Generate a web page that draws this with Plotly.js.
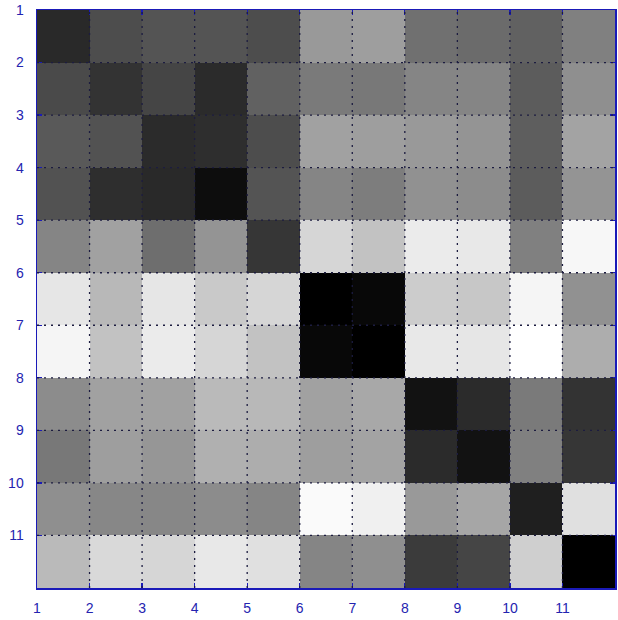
<!DOCTYPE html>
<html>
<head>
<meta charset="utf-8">
<script src="https://cdn.plot.ly/plotly-3.0.1.min.js"></script>
<style>html,body{margin:0;padding:0;background:#fff;}#chart{width:618px;height:620px;}</style>
</head>
<body>
<div id="chart"></div>
<script>
// cell indices (left/top edge of each cell)
const colIdx = [1,2,3,4,5,6,7,8,9,10,11];
const rowIdx = [1,2,3,4,5,6,7,8,9,10,11];
const tickVals = [1,2,3,4,5,6,7,8,9,10,11];
const tickText = ["1","2","3","4","5","6","7","8","9","10","11"];

// gray intensity per cell (0 = black, 1 = white), row by row from the top
const row1  = [0.16,0.30,0.33,0.33,0.30,0.60,0.62,0.44,0.42,0.38,0.50];
const row2  = [0.29,0.20,0.27,0.17,0.38,0.48,0.47,0.52,0.52,0.36,0.56];
const row3  = [0.35,0.32,0.17,0.18,0.30,0.63,0.62,0.60,0.58,0.37,0.64];
const row4  = [0.32,0.18,0.16,0.05,0.33,0.52,0.49,0.57,0.55,0.36,0.58];
const row5  = [0.52,0.63,0.43,0.58,0.21,0.84,0.76,0.92,0.91,0.50,0.97];
const row6  = [0.90,0.72,0.90,0.79,0.84,0.00,0.03,0.80,0.78,0.96,0.57];
const row7  = [0.96,0.76,0.92,0.84,0.76,0.03,0.00,0.91,0.90,1.00,0.68];
const row8  = [0.55,0.63,0.63,0.73,0.72,0.63,0.66,0.07,0.17,0.48,0.20];
const row9  = [0.47,0.62,0.59,0.69,0.68,0.62,0.64,0.17,0.07,0.50,0.21];
const row10 = [0.56,0.53,0.53,0.55,0.52,0.98,0.94,0.60,0.65,0.12,0.88];
const row11 = [0.73,0.85,0.84,0.91,0.88,0.52,0.56,0.23,0.27,0.81,0.00];

const z = [row1,row2,row3,row4,row5,row6,row7,row8,row9,row10,row11];

const trace = {
  type: 'heatmap',
  x: colIdx.map(v => v + 0.5),
  y: rowIdx.map(v => v + 0.5),
  z: z,
  zmin: 0, zmax: 1,
  colorscale: [[0,'#000000'],[1,'#ffffff']],
  showscale: false,
  hoverinfo: 'skip'
};

const blue = '#1a1ab8';
const gridShapes = [];
tickVals.slice(1).forEach(v => {
  gridShapes.push({type:'line', xref:'x', yref:'paper', x0:v, x1:v, y0:0, y1:1,
    layer:'above', line:{color:'#1c1c40', width:1.3, dash:'2px,5px'}});
  gridShapes.push({type:'line', xref:'paper', yref:'y', x0:0, x1:1, y0:v, y1:v,
    layer:'above', line:{color:'#1c1c40', width:1.3, dash:'2px,5px'}});
});

const axisCommon = {
  tickmode: 'array',
  tickvals: tickVals,
  ticktext: tickText,
  showgrid: false,
  zeroline: false,
  showline: true,
  linecolor: blue,
  linewidth: 1.5,
  mirror: 'ticks',
  ticks: 'inside',
  ticklen: 5,
  tickwidth: 1.2,
  tickcolor: blue,
  tickfont: {family: 'Liberation Sans, Arial, sans-serif', size: 14, color: '#2424b0'},
  layer: 'above traces'
};

const layout = {
  width: 618, height: 620,
  margin: {l: 37, r: 3, t: 10, b: 32},
  paper_bgcolor: '#ffffff',
  plot_bgcolor: '#ffffff',
  showlegend: false,
  xaxis: Object.assign({}, axisCommon, {range: [1, 12], ticklabelstandoff: 7}),
  yaxis: Object.assign({}, axisCommon, {range: [12, 1], ticklabelstandoff: 9}),
  shapes: gridShapes
};

Plotly.newPlot('chart', [trace], layout, {displayModeBar: false, staticPlot: true});
</script>
</body>
</html>
